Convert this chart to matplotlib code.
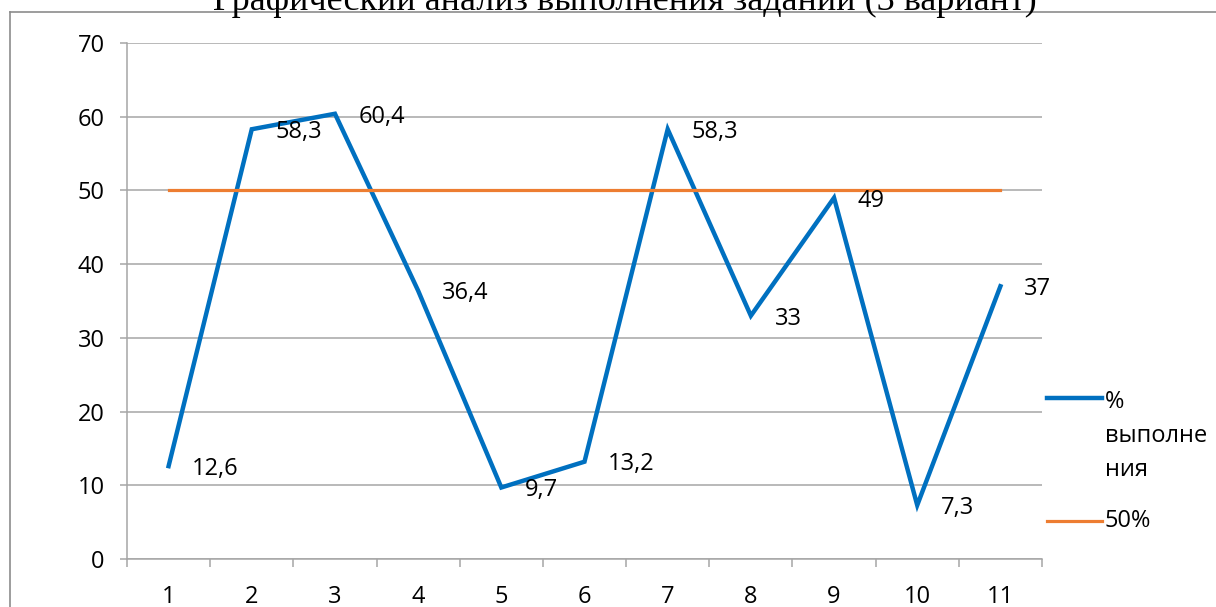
import matplotlib.pyplot as plt
from matplotlib.lines import Line2D

# Данные
variants = [1, 2, 3, 4, 5, 6, 7, 8, 9, 10, 11]
percent_done = [12.6, 58.3, 60.4, 36.4, 9.7, 13.2, 58.3, 33, 49, 7.3, 37]
level_50 = [50, 50, 50, 50, 50, 50, 50, 50, 50, 50, 50]
point_labels = ['12,6', '58,3', '60,4', '36,4', '9,7', '13,2', '58,3', '33', '49', '7,3', '37']
y_ticks = [0, 10, 20, 30, 40, 50, 60, 70]

W, H = 1216, 607
BLUE = '#0070C0'
ORANGE = '#ED7D31'
GRID = '#A6A6A6'
FONT = 'Open Sans'
FS = 17

plt.rcParams['font.family'] = [FONT, 'DejaVu Sans']

fig = plt.figure(figsize=(W / 100, H / 100), dpi=100)


def px(x, y):
    return x / W, 1 - y / H


l, b = px(127, 559)
r, t = px(1042, 43)
ax = fig.add_axes([l, b, r - l, t - b])

ax.plot(variants, percent_done, color=BLUE, linewidth=3.2, solid_joinstyle='miter', zorder=3)
ax.plot(variants, level_50, color=ORANGE, linewidth=2.3, zorder=4)

for xv, yv, lab in zip(variants, percent_done, point_labels):
    ax.annotate(lab, (xv, yv), xytext=(17, -2), textcoords='offset points',
                ha='left', va='center', fontsize=FS, color='black', zorder=5)

ax.set_xlim(0.5, 11.5)
ax.set_ylim(0, 70)
ax.set_yticks(y_ticks)
ax.set_xticks(variants)
ax.set_xticks([v + 0.5 for v in [0] + variants], minor=True)
ax.yaxis.grid(True, color=GRID, linewidth=1.1)
ax.set_axisbelow(True)

for s in ['top', 'right']:
    ax.spines[s].set_visible(False)
for s in ['left', 'bottom']:
    ax.spines[s].set_color(GRID)
    ax.spines[s].set_linewidth(1.1)

ax.tick_params(axis='y', length=5, width=1.1, color=GRID, pad=11, labelsize=FS)
ax.tick_params(axis='x', which='major', length=0, pad=19, labelsize=FS)
ax.tick_params(axis='x', which='minor', length=6, width=1.1, color=GRID)

# Легенда
lx0, ly = px(1047, 398)
lx1, _ = px(1102, 398)
fig.add_artist(Line2D([lx0, lx1], [ly, ly], color=BLUE, linewidth=3.2))
tx, ty = px(1105, 390)
fig.text(tx, ty, '%\nвыполне\nния', ha='left', va='top', fontsize=FS, linespacing=1.55)
_, ly2 = px(0, 521)
fig.add_artist(Line2D([lx0, lx1], [ly2, ly2], color=ORANGE, linewidth=2.3))
fig.text(tx, ly2, '50%', ha='left', va='center', fontsize=FS)

# Рамка диаграммы
bx, by = px(10, 12)
fig.add_artist(Line2D([bx, 1], [by, by], color='#8C8C8C', linewidth=1.2))
fig.add_artist(Line2D([bx, bx], [by, 0], color='#8C8C8C', linewidth=1.2))

# Заголовок (обрезан сверху, как в исходнике)
cx, cy = px(625, 10)
fig.text(cx, cy, 'Графический анализ выполнения заданий (3 вариант)',
         ha='center', va='baseline', fontsize=26, family='Liberation Serif')

fig.savefig('out.png', dpi=100)
